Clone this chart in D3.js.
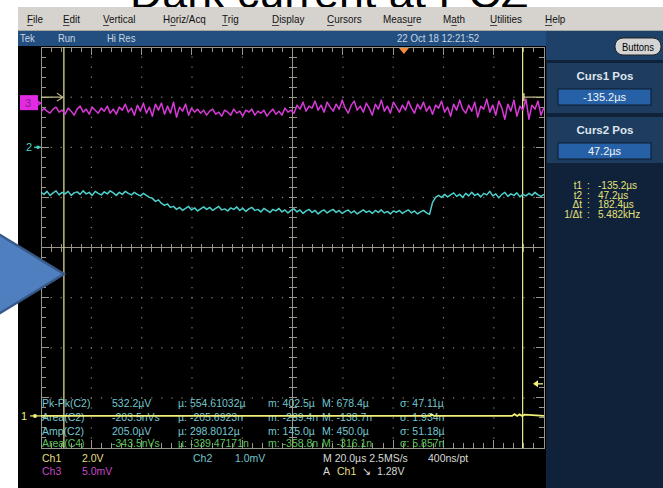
<!DOCTYPE html>
<html><head><meta charset="utf-8">
<script src="https://cdn.jsdelivr.net/npm/d3@7"></script>
<style>
body{margin:0;background:#fff;overflow:hidden;}
svg{display:block;font-family:"Liberation Sans",Arial,sans-serif;}
</style>
</head><body>
<svg id="c" width="663" height="488"></svg>
<script>
// ---------------- DATA ----------------
const titleText = "Dark current at PCZ";
const menuItems = ["File","Edit","Vertical","Horiz/Acq","Trig","Display","Cursors","Measure","Math","Utilities","Help"];
const statusItems = ["Tek","Run","Hi Res"];
const statusDate = "22 Oct 18 12:21:52";

// horizontal: 20 µs/div, 10 divisions, record window (µs)
const timeWindow = [-144.3, 55.7];
const cursorTimes = [-135.2, 47.2];
const cursorLabels = ["Curs1 Pos","Curs2 Pos"];
const cursorValues = ["-135.2µs","47.2µs"];
const cursorReadLabels = ["t1","t2","Δt","1/Δt"];
const cursorReadValues = ["-135.2µs","47.2µs","182.4µs","5.482kHz"];

// channel settings
const ch1Scale = 2.0;   // V/div
const ch2Scale = 1.0;   // mV/div
const ch3Scale = 5.0;   // mV/div
const ch1Pos = -3.36, ch2Pos = 2.0, ch3Pos = 2.88; // div
const triggerLevel = 1.28; // V on Ch1
const triggerTime = 0;

// Ch3 trace (mV), 168 samples across the window
const ch3Values = [
-0.9,-0.5,-0.8,-1.0,-0.6,-0.4,-0.9,-0.7,-1.1,-0.5,
-0.8,-1.2,-0.6,-0.3,-0.9,-0.6,-1.1,-0.4,-0.7,-1.0,
-0.5,-0.8,-0.3,-1.0,-0.6,-1.1,-0.4,-0.7,-0.1,-0.9,
-0.5,-1.2,-0.2,-0.8,0.0,-1.0,-0.4,-1.3,-0.1,-0.7,
0.0,-1.1,-0.3,-1.0,0.1,-1.4,-0.4,-0.8,-0.1,-1.2,
-0.5,-0.9,-0.6,
-1.0,-0.7,-1.2,-0.8,-0.6,-1.1,-0.9,-1.3,-0.7,-0.9,
-1.2,-0.6,-1.0,-0.8,-1.3,-0.7,-0.9,-0.6,-1.2,-0.8,
-1.0,-0.7,-1.3,-0.9,-0.6,-1.1,-0.8,-1.2,-0.5,-0.9,
-0.7,
-1.0,-0.2,-0.6,0.1,-0.8,-0.3,-0.5,0.2,-0.7,-0.2,
-0.9,0.1,-0.4,-0.8,-0.1,-0.6,0.3,-0.5,-1.0,-0.2,
0.2,-0.7,-0.3,-0.9,0.0,-0.5,-1.2,-0.1,-0.6,0.3,
-0.8,-0.3,-1.0,0.1,-0.4,-0.9,-0.2,-0.7,0.2,-0.5,
-1.0,-0.1,-0.6,0.1,-0.8,-0.3,-1.1,-0.2,-0.5,0.2,
-0.9,-0.4,-1.3,-0.1,-0.7,0.3,-0.6,-1.0,-0.2,-0.8,
0.1,-1.4,-0.3,-0.6,0.4,-0.9,-0.2,-1.2,0.2,-0.5,
-1.6,-0.1,-0.8,0.3,-1.3,-0.3,-0.7,0.4,-1.6,-0.2,
-0.6,0.2,-1.2,-0.4
];

// Ch2 trace (µV), 168 samples
const ch2Values = [
-900,-940,-880,-960,-910,-870,-950,-900,-930,-880,
-960,-910,-890,-940,-870,-930,-900,-960,-880,-920,
-950,-890,-930,-870,-910,-960,-900,-940,-880,-920,
-950,-900,-940,-970,-920,-960,-1000,
-1020,-1080,-1050,-1120,-1160,-1130,-1200,-1180,-1240,
-1200,-1260,-1220,-1180,-1250,-1210,-1270,-1230,-1190,-1240,
-1200,-1260,-1220,-1180,-1250,-1230,-1270,-1210,-1240,-1190,
-1260,-1220,-1280,-1230,-1200,-1260,-1240,-1290,-1220,-1260,
-1300,-1240,-1270,-1220,-1290,-1250,-1310,-1260,-1230,-1290,
-1250,-1320,-1270,-1240,-1300,-1260,-1330,-1280,-1250,-1310,
-1270,-1240,-1300,-1260,-1320,-1280,-1250,-1310,-1270,-1330,
-1290,-1250,-1300,-1270,-1320,-1260,-1300,-1250,-1310,-1280,
-1330,-1270,-1300,-1260,-1320,-1280,-1250,-1310,-1270,-1330,
-1290,-1260,-1310,-1340,
-1100,-1000,-960,-1000,-940,-990,-950,-910,-980,-940,
-1000,-920,-970,-900,-960,-930,-990,-920,-950,-880,
-970,-930,-1010,-940,-900,-980,-930,-960,-910,-990,
-940,-970,-920,-960,-900,-950,-980,-940
];

// Ch1 trace (V): breakpoints
const ch1Times = [-144.3, 10.0, 11.0, 12.0, 43.0, 44.0, 45.0, 46.0, 47.0, 48.0, 55.7];
const ch1Volts = [0, 0, 0.06, 0, 0, 0.07, 0, 0.06, 0, 0.05, 0];

// measurements
const measNames = ["Pk-Pk(C2)","Area(C2)","Amp(C2)","Area(C4)"];
const measValues = ["532.2µV","-203.5nVs","205.0µV","-343.5nVs"];
const measMean = ["554.61032µ","-205.6923n","298.8012µ","-339.47171n"];
const measMin = ["402.5µ","-289.4n","145.0µ","-358.8n"];
const measMax = ["678.4µ","-138.7n","450.0µ","-316.1n"];
const measSigma = ["47.11µ","1.934n","51.18µ","5.857n"];

// bottom readouts
const chanNames = ["Ch1","Ch3","Ch2"];
const chanScales = ["2.0V","5.0mV","1.0mV"];
const horizText = ["M 20.0µs 2.5MS/s","400ns/pt"];
const trigText = ["A","Ch1","↘","1.28V"];

// ---------------- DRAW ----------------
const svg = d3.select("#c");
const W = 663, H = 488;
const G = {l:41, r:544, t:47, b:448};

const x = d3.scaleLinear().domain(timeWindow).range([G.l, G.r]);
const yDiv = d3.scaleLinear().domain([-4, 4]).range([G.b, G.t]);
const divW = (G.r - G.l) / 10, divH = (G.b - G.t) / 8;

function condense(sel, f){
  sel.each(function(){ const L = this.getComputedTextLength(); d3.select(this).attr("textLength", L*f).attr("lengthAdjust","spacingAndGlyphs"); });
  return sel;
}

// title (drawn first; screenshot covers its lower part)
svg.append("text").attr("x", 329).attr("y", 8).attr("text-anchor","middle")
  .attr("font-size", 44)
  .attr("textLength", 398).attr("lengthAdjust","spacingAndGlyphs")
  .attr("fill","#000").text(titleText);

// menu bar
svg.append("rect").attr("x",18).attr("y",7).attr("width",W-18).attr("height",24).attr("fill","#d6d3ce");
svg.append("line").attr("x1",18).attr("x2",W).attr("y1",30.5).attr("y2",30.5).attr("stroke","#a8a6a0");
const menuX = [27,63,103,163,222,272,327,383,443,490,545];
const menuUnderline = [0,0,0,1,0,0,0,4,1,0,0];
menuItems.forEach((m,i)=>{
  const t = svg.append("text").attr("x",menuX[i]).attr("y",23).attr("font-size",11.5).attr("fill","#111").text(m);
  condense(t, 0.86);
  const node = t.node(), k = menuUnderline[i];
  const s = node.getStartPositionOfChar(k).x, e = node.getEndPositionOfChar(k).x;
  svg.append("line").attr("x1", s).attr("x2", e).attr("y1",25.5).attr("y2",25.5).attr("stroke","#222").attr("stroke-width",0.8);
});

// status bar
svg.append("rect").attr("x",18).attr("y",31).attr("width",W-18).attr("height",15).attr("fill","#224f80");
const statusX = [20,58,107];
statusItems.forEach((s,i)=>condense(svg.append("text").attr("x",statusX[i]).attr("y",42).attr("font-size",10.5).attr("fill","#c9d5e2").text(s),0.9));
condense(svg.append("text").attr("x",397).attr("y",42).attr("font-size",10.5).attr("fill","#c9d5e2").text(statusDate),0.92);

// scope black area
svg.append("rect").attr("x",18).attr("y",46).attr("width",546-18).attr("height",H-46).attr("fill","#000");

// right panel
svg.append("rect").attr("x",546).attr("y",46).attr("width",W-546).attr("height",H-46).attr("fill","#10213a");
svg.append("rect").attr("x",546).attr("y",31).attr("width",W-546).attr("height",29).attr("fill","#1d4169");
// Buttons pill
svg.append("rect").attr("x",615).attr("y",38).attr("width",46).attr("height",17).attr("rx",8)
  .attr("fill","#d4d4d4").attr("stroke","#222").attr("stroke-width",1);
condense(svg.append("text").attr("x",638).attr("y",50.5).attr("text-anchor","middle").attr("font-size",10.5).attr("fill","#000").text("Buttons"),0.9);
// cursor sections
const secY = [63,117], secH = [50,46];
cursorLabels.forEach((lab,i)=>{
  svg.append("rect").attr("x",547).attr("y",secY[i]).attr("width",W-547).attr("height",secH[i]).attr("fill","#1e3c5e");
  svg.append("text").attr("x",605).attr("y",secY[i]+17).attr("text-anchor","middle")
    .attr("font-size",11.5).attr("font-weight","bold").attr("fill","#dde6ef").text(lab);
  svg.append("rect").attr("x",558).attr("y",secY[i]+26).attr("width",93).attr("height",16)
    .attr("fill","#2660a6").attr("stroke","#0b1a2c").attr("stroke-width",1);
  svg.append("text").attr("x",604.5).attr("y",secY[i]+38).attr("text-anchor","middle")
    .attr("font-size",11).attr("fill","#f2f5f8").text(cursorValues[i]);
});
cursorReadLabels.forEach((lab,i)=>{
  const yy = 189 + i*9.7;
  svg.append("text").attr("x",582).attr("y",yy).attr("text-anchor","end").attr("font-size",10).attr("fill","#e6e27a").text(lab);
  svg.append("text").attr("x",587).attr("y",yy).attr("font-size",10).attr("fill","#e6e27a").text(":");
  svg.append("text").attr("x",598).attr("y",yy).attr("font-size",10).attr("fill","#e6e27a").text(cursorReadValues[i]);
});

// graticule
const gcol = "#9b968c";
const grat = svg.append("g").attr("stroke", gcol).attr("fill","none").attr("shape-rendering","crispEdges");
grat.append("rect").attr("x",G.l).attr("y",G.t).attr("width",G.r-G.l).attr("height",G.b-G.t).attr("stroke-width",1);
const xc = x(timeWindow[0]+100), yc = yDiv(0);
grat.append("line").attr("x1",G.l).attr("x2",G.r).attr("y1",yc).attr("y2",yc);
grat.append("line").attr("x1",xc).attr("x2",xc).attr("y1",G.t).attr("y2",G.b);
d3.range(1,50).forEach(k=>{
  const px = G.l + k*divW/5;
  const major = k%5===0;
  const L = major?8:5;
  grat.append("line").attr("x1",px).attr("x2",px).attr("y1",G.t).attr("y2",G.t+L);
  grat.append("line").attr("x1",px).attr("x2",px).attr("y1",G.b).attr("y2",G.b-L);
  grat.append("line").attr("x1",px).attr("x2",px).attr("y1",yc-4).attr("y2",yc+4);
});
d3.range(1,40).forEach(k=>{
  const py = G.t + k*divH/5;
  const major = k%5===0;
  const L = major?8:5;
  grat.append("line").attr("x1",G.l).attr("x2",G.l+L).attr("y1",py).attr("y2",py);
  grat.append("line").attr("x1",G.r).attr("x2",G.r-L).attr("y1",py).attr("y2",py);
  grat.append("line").attr("x1",xc-4).attr("x2",xc+4).attr("y1",py).attr("y2",py);
});
const dots = svg.append("g").attr("fill", "#8a857c");
d3.range(1,10).forEach(i=>{ if(i===5) return;
  const px = G.l + i*divW;
  d3.range(1,40).forEach(k=>dots.append("rect").attr("x",px-0.5).attr("y",G.t+k*divH/5-0.5).attr("width",1.2).attr("height",1.2));
});
d3.range(1,8).forEach(j=>{ if(j===4) return;
  const py = G.t + j*divH;
  d3.range(1,50).forEach(k=>dots.append("rect").attr("x",G.l+k*divW/5-0.5).attr("y",py-0.5).attr("width",1.2).attr("height",1.2));
});

svg.append("clipPath").attr("id","gc").append("rect").attr("x",G.l).attr("y",G.t).attr("width",G.r-G.l).attr("height",G.b-G.t);

const n = ch3Values.length;
const tAt = i => timeWindow[0] + i*(timeWindow[1]-timeWindow[0])/(n-1);

// measurements text (under traces)
const measColor = ["#74c6cf","#74c6cf","#74c6cf","#5fc25f"];
const rowY = [407,421,435,446.5];
const colX = [42,112,178,268,322,400];
measNames.forEach((nm,i)=>{
  const cells = [nm, measValues[i], "µ: "+measMean[i], "m: "+measMin[i], "M: "+measMax[i], "σ: "+measSigma[i]];
  cells.forEach((c,j)=>svg.append("text").attr("x",colX[j]).attr("y",rowY[i]).attr("font-size",10.5).attr("fill",measColor[i]).text(c));
});

// cursors
cursorTimes.forEach(t=>{
  svg.append("line").attr("x1",x(t)).attr("x2",x(t)).attr("y1",G.t).attr("y2",G.b)
    .attr("stroke","#eeeb9a").attr("stroke-width",1.2);
});

const traces = svg.append("g").attr("clip-path","url(#gc)");
const line = d3.line();
traces.append("path").attr("d", line(ch3Values.map((v,i)=>[x(tAt(i)), yDiv(ch3Pos + v/ch3Scale)])))
  .attr("fill","none").attr("stroke","#d83ad8").attr("stroke-width",1.5).attr("stroke-linejoin","round");
traces.append("path").attr("d", line(ch2Values.map((v,i)=>[x(tAt(i)), yDiv(ch2Pos + v/1000/ch2Scale)])))
  .attr("fill","none").attr("stroke","#4cd0cc").attr("stroke-width",1.5).attr("stroke-linejoin","round");
traces.append("path").attr("d", line(ch1Times.map((t,i)=>[x(t), yDiv(ch1Pos + ch1Volts[i]/ch1Scale)])))
  .attr("fill","none").attr("stroke","#f2f07a").attr("stroke-width",1.8);

// cursor reference markers at top
const yRef = yDiv(3);
const mcol = "#c9c28e";
svg.append("line").attr("x1",G.l).attr("x2",x(cursorTimes[0])-2).attr("y1",yRef).attr("y2",yRef).attr("stroke",mcol).attr("stroke-width",1.2);
svg.append("path").attr("d",`M${x(cursorTimes[0])-7},${yRef-4}L${x(cursorTimes[0])-1},${yRef}L${x(cursorTimes[0])-7},${yRef+4}`).attr("fill","none").attr("stroke",mcol).attr("stroke-width",1.2);
svg.append("line").attr("x1",x(cursorTimes[1])).attr("x2",G.r).attr("y1",yRef).attr("y2",yRef).attr("stroke",mcol).attr("stroke-width",1.2);
svg.append("path").attr("d",`M${x(cursorTimes[1])+1},${yRef-4}L${x(cursorTimes[1])+1},${yRef+4}`).attr("stroke",mcol).attr("stroke-width",2);

// channel markers
const y3 = yDiv(ch3Pos), y2 = yDiv(ch2Pos), y1 = yDiv(ch1Pos);
svg.append("rect").attr("x",20).attr("y",y3-8).attr("width",18).attr("height",15).attr("fill","#e22ae2");
svg.append("text").attr("x",28).attr("y",y3+4).attr("text-anchor","middle").attr("font-size",11).attr("fill","#8a1a8a").text("3");
svg.append("path").attr("d",`M36,${y3}L41,${y3}M38,${y3-2}L41,${y3}L38,${y3+2}`).attr("stroke","#e22ae2").attr("stroke-width",1.2).attr("fill","none");
svg.append("text").attr("x",29).attr("y",y2+4).attr("text-anchor","middle").attr("font-size",11).attr("fill","#4cd0cc").text("2");
svg.append("path").attr("d",`M34,${y2}L41,${y2}`).attr("stroke","#4cd0cc").attr("stroke-width",1.2);
svg.append("circle").attr("cx",38).attr("cy",y2).attr("r",1.8).attr("fill","#4cd0cc");
svg.append("text").attr("x",24).attr("y",y1+4).attr("text-anchor","middle").attr("font-size",11).attr("fill","#f2f07a").text("1");
svg.append("path").attr("d",`M30,${y1}L41,${y1}`).attr("stroke","#f2f07a").attr("stroke-width",1.2);
svg.append("circle").attr("cx",35).attr("cy",y1).attr("r",2).attr("fill","#f2f07a");

// trigger level arrow (right) and trigger position (top)
const yT = yDiv(ch1Pos + triggerLevel/ch1Scale);
svg.append("path").attr("d",`M534,${yT}L543,${yT}`).attr("stroke","#f2f07a").attr("stroke-width",1.3);
svg.append("path").attr("d",`M533,${yT}L538,${yT-3.5}L538,${yT+3.5}Z`).attr("fill","#f2f07a");
const xT = x(triggerTime);
svg.append("path").attr("d",`M${xT-5},${G.t+1}L${xT+5},${G.t+1}L${xT},${G.t+7}Z`).attr("fill","#f08a3c");

// bottom readouts
const rb1 = 462, rb2 = 475;
const addT = (xx,yy,col,s)=>svg.append("text").attr("x",xx).attr("y",yy).attr("font-size",10.5).attr("fill",col).text(s);
addT(42,rb1,"#e4df84",chanNames[0]);
addT(82,rb1,"#e4df84",chanScales[0]);
addT(42,rb2,"#c648c6",chanNames[1]);
addT(82,rb2,"#c648c6",chanScales[1]);
addT(193,rb1,"#74c6cf",chanNames[2]);
addT(235,rb1,"#74c6cf",chanScales[2]);
addT(323,rb1,"#d8d8d8",horizText[0]);
addT(428,rb1,"#d8d8d8",horizText[1]);
const trigX = [323,337,362,377];
const trigCol = ["#d8d8d8","#e4df84","#d8d8d8","#d8d8d8"];
trigText.forEach((s,i)=>addT(trigX[i],rb2,trigCol[i],s));

// PowerPoint arrow overlay
svg.append("path").attr("d","M64,274L-44,208L-44,340Z").attr("fill","#4f7fbf").attr("stroke","#37598a").attr("stroke-width",2.5).attr("stroke-linejoin","miter");
</script>
</body></html>
